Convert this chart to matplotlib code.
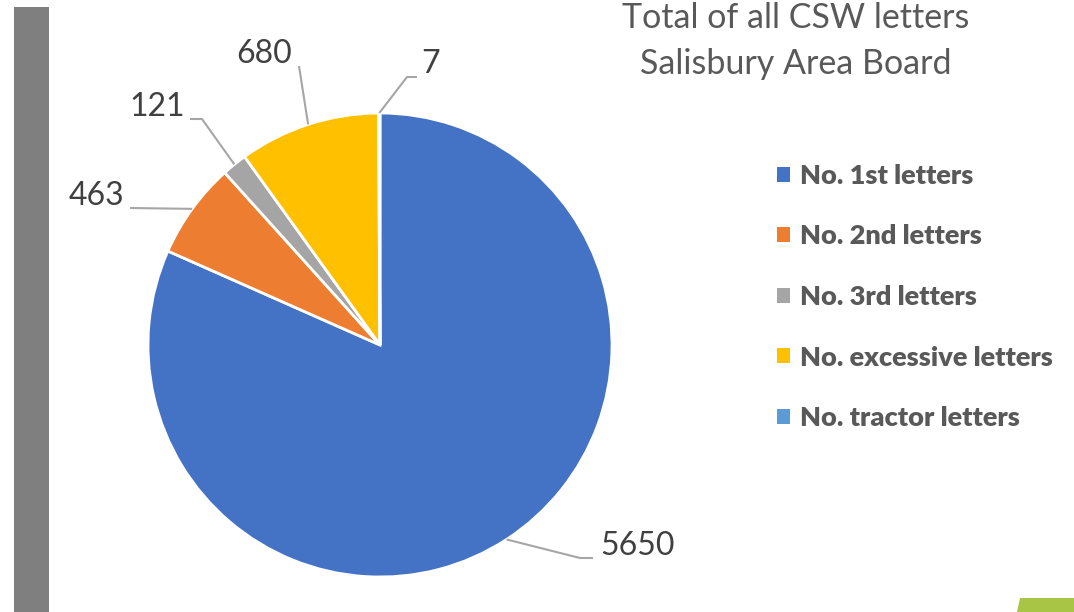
import matplotlib
matplotlib.use('Agg')
from matplotlib import pyplot as plt
from matplotlib.patches import Rectangle, Polygon, Patch
import numpy as np

# данные диаграммы
categories = ['No. 1st letters', 'No. 2nd letters', 'No. 3rd letters',
              'No. excessive letters', 'No. tractor letters']
values = [5650, 463, 121, 680, 7]
colors = ['#4472C4', '#ED7D31', '#A5A5A5', '#FFC000', '#5B9BD5']
title_lines = ['Total of all CSW letters', 'Salisbury Area Board']

W, H = 1074, 612
plt.rcParams['font.family'] = ['Lato', 'DejaVu Sans']


def Y(y):
    # перевод из координат картинки (сверху вниз) в координаты осей
    return H - y


fig = plt.figure(figsize=(W / 100, H / 100), dpi=100)
ax = fig.add_axes([0, 0, 1, 1])

cx, cy, r = 380, Y(345), 232
wedges, _ = ax.pie(values, colors=colors, startangle=90, counterclock=False,
                   center=(cx, cy), radius=r,
                   wedgeprops=dict(edgecolor='white', linewidth=2))

# pie сбрасывает пределы осей, поэтому задаём их после
ax.set_xlim(0, W)
ax.set_ylim(0, H)
ax.set_aspect('equal')
ax.axis('off')

# серая полоса слева и зелёный уголок справа
ax.add_patch(Rectangle((14, 0), 35, Y(7), color='#7F7F7F', lw=0))
ax.add_patch(Polygon([(1020, Y(598)), (W, Y(598)), (W, 0), (1017, 0)],
                     closed=True, color='#A9C545', lw=0))

# подписи значений с выносками (точки излома и текста)
elbows = [[(580, 558), (593, 558)],
          [(130, 208)],
          [(202, 119), (190, 119)],
          [(299, 66)],
          [(407, 77), (417, 77)]]
label_pos = [(600, 546, 'left'), (124, 196, 'right'), (185, 107, 'right'),
             (264, 54, 'center'), (421, 64, 'left')]

for w, v, el, (tx, ty, ha) in zip(wedges, values, elbows, label_pos):
    ang = np.deg2rad((w.theta1 + w.theta2) / 2)
    px = cx + r * np.cos(ang)
    py = cy + r * np.sin(ang)
    xs = [px] + [e[0] for e in el]
    ys = [py] + [Y(e[1]) for e in el]
    ax.plot(xs, ys, color='#A6A6A6', lw=1.5, solid_capstyle='butt')
    ax.text(tx, Y(ty), str(v), ha=ha, va='center', fontsize=23, color='#404040')

for line, ty in zip(title_lines, [18, 64]):
    ax.text(796, Y(ty), line, ha='center', va='center', fontsize=24.5, color='#595959')

handles = [Patch(facecolor=c, edgecolor='none') for c in colors]
leg = ax.legend(handles, categories, loc='upper left',
                bbox_to_anchor=(766 / W, 1 - 153 / H), borderaxespad=0,
                frameon=False, handlelength=0.48, handleheight=0.48, handletextpad=0.36,
                labelspacing=1.35, prop=dict(family='Lato', weight='heavy', size=19.5))
for t in leg.get_texts():
    t.set_color('#595959')

fig.savefig('out.png', dpi=100)
